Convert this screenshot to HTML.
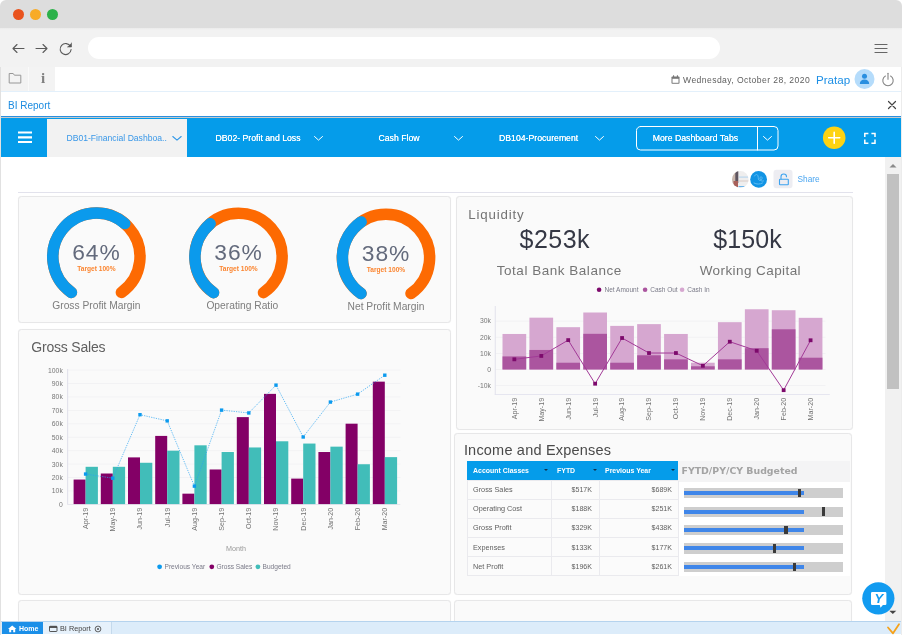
<!DOCTYPE html>
<html lang="en">
<head>
<meta charset="utf-8">
<title>BI Report - Financial Dashboard</title>
<style>
*{box-sizing:border-box;margin:0;padding:0}
html,body{width:902px;height:635px;overflow:hidden;background:#fff}
body{font-family:"Liberation Sans",sans-serif;color:#555}
#win{position:absolute;left:0;top:0;width:902px;height:635px;overflow:hidden;border-radius:6px 6px 0 0;background:#fff}
.abs{position:absolute}
.t{position:absolute;white-space:nowrap;line-height:1}
#titlebar{left:0;top:0;width:902px;height:28px;background:#dddddd}
.dot{position:absolute;top:8.800px;width:11px;height:11px;border-radius:50%}
#toolbar{left:0;top:28px;width:902px;height:39px;background:linear-gradient(#ebebeb,#f2f2f2 2px,#f2f2f2)}
#url{left:88px;top:9px;width:632px;height:22px;border-radius:11px;background:#fff}
#row1{left:0;top:67px;width:902px;height:25px;background:#fff;border-bottom:1px solid #e3f0fb}
#row1l{left:0;top:0;width:55px;height:24px;background:#f3f3f3}
#row2{left:0;top:92px;width:902px;height:24px;background:#fff}
#bluebar{left:0;top:118px;width:902px;height:39px;background:#059cea}
#blueline{left:0;top:116px;width:902px;height:1px;background:#2b8fdf}
#blueline2{left:0;top:117px;width:902px;height:1px;background:#c9c9c9}
#acttab{left:47px;top:1px;width:140px;height:38px;background:#f2f2f2}
.tab{color:#fff;font-size:8.7px;top:16px;text-shadow:0 0 .4px #fff}
.card{position:absolute;background:#fafafa;border:1px solid #e7e7e8;border-radius:3.5px;box-shadow:0 0 1px rgba(0,0,0,.07)}
#frameL{left:0;top:67px;width:1.4px;height:568px;background:#e1e1e1}
#frameR{left:900.5px;top:67px;width:1.5px;height:568px;background:#ececec}
#scroll{left:885px;top:157px;width:15.5px;height:464px;background:#f1f1f1}
#thumb{left:1.75px;top:17.4px;width:12.25px;height:214.6px;background:#c1c1c1}
#status{left:0;top:621px;width:902px;height:13px;background:#dcecfa;border-top:1px solid #b5d3ee}
#home{left:2px;top:0;width:41px;height:12px;background:#1b8fe8}
#birep{left:43px;top:0;width:69px;height:12px;background:#e6f1fb;border-right:1px solid #c4d9ec}
.gl{fill:#5b6173}
</style>
</head>
<body>
<div id="win">
  <!-- window chrome -->
  <div id="titlebar" class="abs">
    <div class="dot" style="left:13px;background:#e9531d"></div>
    <div class="dot" style="left:30px;background:#f8ab27"></div>
    <div class="dot" style="left:47px;background:#2cb14a"></div>
  </div>
  <div id="toolbar" class="abs">
    <div id="url" class="abs"></div>
    <svg class="abs" style="left:0;top:1px" width="902" height="38" viewBox="0 0 902 38" fill="none" stroke="#5a5a5a" stroke-width="1.1" stroke-linecap="round" stroke-linejoin="round">
      <path d="M24 19.5H13M17 15.5l-4 4 4 4"/>
      <path d="M36 19.5h11M43 15.5l4 4-4 4"/>
      <path d="M70.5 17.5a5.5 5.5 0 1 0 .6 3"/><path d="M71.5 14v4h-4" fill="#555" stroke-width=".6"/>
      <path d="M875 15.5h12M875 19.5h12M875 23.5h12" stroke="#666" stroke-width="1.2"/>
    </svg>
  </div>
  <div id="row1" class="abs">
    <div id="row1l" class="abs"></div>
    <div class="abs" style="left:28px;top:0;width:1px;height:24px;background:#fafafa"></div>
    <svg class="abs" style="left:0;top:0" width="902" height="24" viewBox="0 0 902 24">
      <path d="M9.200 6.500h4l1.200 1.700h6.400v7.800H9.200z" fill="none" stroke="#979797" stroke-width="1" stroke-linejoin="round"/>
      <text x="43" y="16.400" text-anchor="middle" font-family="Liberation Serif, serif" font-weight="700" font-size="15" fill="#808080">i</text>
      <!-- calendar -->
      <g fill="#777"><rect x="671.500" y="9.500" width="8" height="7.200" rx=".8"/><rect x="673" y="8.300" width="1.100" height="2"/><rect x="676.900" y="8.300" width="1.100" height="2"/></g>
      <rect x="672.500" y="11.800" width="6" height="4" fill="#fff"/>
      <!-- avatar -->
      <circle cx="864.5" cy="12" r="10" fill="#b5dcfb"/>
      <circle cx="864.5" cy="9.3" r="2.5" fill="#2a8fe0"/>
      <path d="M859.8 17c0-3 2-4.6 4.7-4.6s4.7 1.6 4.7 4.6z" fill="#2a8fe0"/>
      <!-- power -->
      <g fill="none" stroke="#858585" stroke-width="1.100" stroke-linecap="round"><path d="M885.400 9a5.200 5.200 0 1 0 5.200 0"/><path d="M888 6.300v6"/></g>
    </svg>
    <div class="t" style="left:683px;top:8.500px;font-size:8.600px;color:#606060;letter-spacing:.42px">Wednesday, October 28, 2020</div>
    <div class="t" style="left:816px;top:6.700px;font-size:11.600px;color:#1d8fe5">Pratap</div>
  </div>
  <div id="row2" class="abs">
    <div class="t" style="left:8px;top:9px;font-size:10px;color:#1b8be0">BI Report</div>
    <svg class="abs" style="left:887px;top:7.500px" width="10" height="10" viewBox="0 0 10 10"><path d="M1.5 1.5l7 7M8.5 1.5l-7 7" stroke="#444" stroke-width="1.2" stroke-linecap="round"/></svg>
  </div>
  <div id="blueline" class="abs"></div>
  <div id="blueline2" class="abs"></div>
  <div id="bluebar" class="abs">
    <div id="acttab" class="abs"></div>
    <svg class="abs" style="left:0;top:0" width="902" height="39" viewBox="0 0 902 39" fill="none" stroke="#fff" stroke-linecap="round" stroke-linejoin="round">
      <path d="M18 14.5h14M18 19.3h14M18 24h14" stroke-width="2.2" stroke-linecap="butt"/>
      <path d="M172.800 18.500l4.200 3.600 4.200-3.600" stroke="#2f97e8" stroke-width="1.100"/>
      <path d="M314.500 18.500l4 3.600 4-3.600" stroke-width="1"/>
      <path d="M454.500 18.500l4 3.600 4-3.600" stroke-width="1"/>
      <path d="M595.500 18.500l4 3.600 4-3.600" stroke-width="1"/>
      <rect x="636.500" y="8.500" width="141.500" height="23.500" rx="4" stroke-width="1"/>
      <path d="M757.500 8.500v23.500" stroke-width="1"/>
      <path d="M763.500 18.500l4 3.600 4-3.600" stroke-width="1"/>
      <circle cx="834.200" cy="19.800" r="11.300" fill="#fdd313" stroke="none"/>
      <path d="M828.700 19.800h11M834.200 14.300v11" stroke-width="1.600"/>
      <path d="M864.800 19v-3.600h3.600M871.400 15.400h3.600v3.600M875 21.600v3.600h-3.600M868.400 25.200h-3.600v-3.600" stroke-width="1.500" stroke-linecap="butt" stroke-linejoin="miter"/>
    </svg>
    <div class="t" style="left:66.500px;top:16px;font-size:8.600px;color:#3a98e8">DB01-Financial Dashboa..</div>
    <div class="t tab" style="left:215.500px">DB02- Profit and Loss</div>
    <div class="t tab" style="left:378.500px">Cash Flow</div>
    <div class="t tab" style="left:499px">DB104-Procurement</div>
    <div class="t tab" style="left:652.800px">More Dashboard Tabs</div>
  </div>

  <!-- CONTENT -->
  <div id="content" class="abs" style="left:0;top:157px;width:885px;height:464px;overflow:hidden;background:#fff">
   <div id="pg" class="abs" style="left:0;top:-157px;width:885px;height:700px">
    
<svg class="abs" style="left:0;top:157px" width="885" height="40" viewBox="0 157 885 40">
  <defs>
    <clipPath id="avc"><circle cx="740.3" cy="179.4" r="8.3"/></clipPath>
  </defs>
  <g clip-path="url(#avc)">
    <rect x="731" y="170" width="18" height="19" fill="#efeeee"/>
    <rect x="731" y="170" width="5.500" height="19" fill="#c9b7ad"/>
    <rect x="735.300" y="171" width="3" height="12" fill="#5e5560"/>
    <rect x="733.500" y="181" width="4.500" height="8" fill="#a8605a"/>
    <rect x="739" y="176.500" width="10" height="1.200" fill="#bcd7ee"/>
    <rect x="739" y="180.500" width="10" height="1" fill="#d9c9c4"/>
    <rect x="738.500" y="186" width="7" height="1.200" fill="#6db5ea"/>
  </g>
  <circle cx="758.6" cy="179.4" r="8.4" fill="#1294e4"/>
  <path d="M754.500 176c1-2 3-2 3.500 0s0 4 1.500 4.500 3-1.500 2.500-3-2.500-.5-2 1.500 2.500 2.500 3.500 2M754 183c2.500 1.500 6 1.500 8.500 0" stroke="#5ebcf3" stroke-width="1" fill="none" stroke-linecap="round"/>
  <rect x="773.5" y="169.800" width="19" height="18.500" rx="3" fill="#ededf2"/>
  <g fill="none" stroke="#3da3ef" stroke-width="1.100" stroke-linejoin="round" stroke-linecap="round">
    <rect x="779.500" y="179.200" width="8.800" height="5.600" rx=".6"/>
    <path d="M781 179v-2.300a2.750 2.750 0 0 1 5.500 0"/>
  </g>
  <rect x="18" y="192" width="835" height="1" fill="#e2e2ec"/>
</svg>
<div class="t" style="left:797.5px;top:175.300px;font-size:8.300px;color:#4aa5f0">Share</div>

    <div class="card" style="left:18.1px;top:196.1px;width:433.3px;height:126.7px"></div><div class="card" style="left:18.1px;top:328.8px;width:433.3px;height:265.9px"></div><div class="card" style="left:18.1px;top:600.2px;width:433.3px;height:69.8px"></div><div class="card" style="left:455.5px;top:196.1px;width:397px;height:234.2px"></div><div class="card" style="left:454.1px;top:432.8px;width:398.4px;height:161.9px"></div><div class="card" style="left:454.1px;top:600.2px;width:398.4px;height:69.8px"></div><svg class="abs" style="left:0;top:157px" width="885" height="478" viewBox="0 157 885 478" font-family="Liberation Sans, sans-serif"><path d="M71.39 292.42A43.6 43.6 0 1 1 121.41 292.42" fill="none" stroke="#fd6a02" stroke-width="11.5" stroke-linecap="round"/><path d="M71.39 292.42A43.6 43.6 0 1 1 124.77 223.6" fill="none" stroke="#0b9aec" stroke-width="11.5" stroke-linecap="round"/><text x="96.4" y="260" text-anchor="middle" font-size="22.8" letter-spacing=".9" fill="#636a7c">64%</text><text x="96.4" y="270.6" text-anchor="middle" font-size="6.6" font-weight="700" fill="#fb8530">Target 100%</text><text x="96.4" y="308.8" text-anchor="middle" font-size="10.25" fill="#7d7d7d">Gross Profit Margin</text><path d="M213.49 292.62A43.6 43.6 0 1 1 263.51 292.62" fill="none" stroke="#fd6a02" stroke-width="11.5" stroke-linecap="round"/><path d="M213.49 292.62A43.6 43.6 0 0 1 210.13 223.8" fill="none" stroke="#0b9aec" stroke-width="11.5" stroke-linecap="round"/><text x="238.5" y="260.2" text-anchor="middle" font-size="22.8" letter-spacing=".9" fill="#636a7c">36%</text><text x="238.5" y="270.8" text-anchor="middle" font-size="6.6" font-weight="700" fill="#fb8530">Target 100%</text><text x="242.3" y="309" text-anchor="middle" font-size="10.25" fill="#7d7d7d">Operating Ratio</text><path d="M360.99 293.52A43.6 43.6 0 1 1 411.01 293.52" fill="none" stroke="#fd6a02" stroke-width="11.5" stroke-linecap="round"/><path d="M360.99 293.52A43.6 43.6 0 0 1 361.12 222" fill="none" stroke="#0b9aec" stroke-width="11.5" stroke-linecap="round"/><text x="386" y="261.1" text-anchor="middle" font-size="22.8" letter-spacing=".9" fill="#636a7c">38%</text><text x="386" y="271.7" text-anchor="middle" font-size="6.6" font-weight="700" fill="#fb8530">Target 100%</text><text x="386" y="310.3" text-anchor="middle" font-size="10.25" fill="#7d7d7d">Net Profit Margin</text><rect x="68" y="490.57" width="332.5" height=".8" fill="#f1f1f3"/><rect x="68" y="477.14" width="332.5" height=".8" fill="#f1f1f3"/><rect x="68" y="463.71" width="332.5" height=".8" fill="#f1f1f3"/><rect x="68" y="450.28" width="332.5" height=".8" fill="#f1f1f3"/><rect x="68" y="436.85" width="332.5" height=".8" fill="#f1f1f3"/><rect x="68" y="423.42" width="332.5" height=".8" fill="#f1f1f3"/><rect x="68" y="409.99" width="332.5" height=".8" fill="#f1f1f3"/><rect x="68" y="396.56" width="332.5" height=".8" fill="#f1f1f3"/><rect x="68" y="383.13" width="332.5" height=".8" fill="#f1f1f3"/><rect x="68" y="369.7" width="332.5" height=".8" fill="#f1f1f3"/><rect x="67.3" y="369" width=".8" height="135.4" fill="#d9d9e6"/><text x="62.8" y="506.8" text-anchor="end" font-size="6.8" fill="#777">0</text><text x="62.8" y="493.37" text-anchor="end" font-size="6.8" fill="#777">10k</text><text x="62.8" y="479.94" text-anchor="end" font-size="6.8" fill="#777">20k</text><text x="62.8" y="466.51" text-anchor="end" font-size="6.8" fill="#777">30k</text><text x="62.8" y="453.08" text-anchor="end" font-size="6.8" fill="#777">40k</text><text x="62.8" y="439.65" text-anchor="end" font-size="6.8" fill="#777">50k</text><text x="62.8" y="426.22" text-anchor="end" font-size="6.8" fill="#777">60k</text><text x="62.8" y="412.79" text-anchor="end" font-size="6.8" fill="#777">70k</text><text x="62.8" y="399.36" text-anchor="end" font-size="6.8" fill="#777">80k</text><text x="62.8" y="385.93" text-anchor="end" font-size="6.8" fill="#777">90k</text><text x="62.8" y="372.5" text-anchor="end" font-size="6.8" fill="#777">100k</text><rect x="73.6" y="479.55" width="12" height="24.85" fill="#830066"/><rect x="85.6" y="466.8" width="12.3" height="37.6" fill="#41bdb9"/><rect x="100.8" y="473.51" width="12" height="30.89" fill="#830066"/><rect x="112.8" y="466.8" width="12.3" height="37.6" fill="#41bdb9"/><rect x="128" y="457.39" width="12" height="47.01" fill="#830066"/><rect x="140" y="462.77" width="12.3" height="41.63" fill="#41bdb9"/><rect x="155.2" y="435.91" width="12" height="68.49" fill="#830066"/><rect x="167.2" y="450.68" width="12.3" height="53.72" fill="#41bdb9"/><rect x="182.4" y="493.66" width="12" height="10.74" fill="#830066"/><rect x="194.4" y="445.31" width="12.3" height="59.09" fill="#41bdb9"/><rect x="209.6" y="469.48" width="12" height="34.92" fill="#830066"/><rect x="221.6" y="452.02" width="12.3" height="52.38" fill="#41bdb9"/><rect x="236.8" y="417.11" width="12" height="87.29" fill="#830066"/><rect x="248.8" y="447.46" width="12.3" height="56.94" fill="#41bdb9"/><rect x="264" y="393.87" width="12" height="110.53" fill="#830066"/><rect x="276" y="441.28" width="12.3" height="63.12" fill="#41bdb9"/><rect x="291.2" y="478.61" width="12" height="25.79" fill="#830066"/><rect x="303.2" y="443.56" width="12.3" height="60.84" fill="#41bdb9"/><rect x="318.4" y="452.02" width="12" height="52.38" fill="#830066"/><rect x="330.4" y="446.65" width="12.3" height="57.75" fill="#41bdb9"/><rect x="345.6" y="423.69" width="12" height="80.71" fill="#830066"/><rect x="357.6" y="464.24" width="12.3" height="40.16" fill="#41bdb9"/><rect x="372.8" y="381.65" width="12" height="122.75" fill="#830066"/><rect x="384.8" y="457.13" width="12.3" height="47.27" fill="#41bdb9"/><polyline points="85.6,474.05 112.8,478.21 140,414.69 167.2,420.87 194.4,486.14 221.6,410.12 248.8,412.94 276,385.14 303.2,436.98 330.4,402.06 357.6,394.14 384.8,375.2" fill="none" stroke="#2aa4f0" stroke-width=".7" stroke-dasharray="1.3 1.1"/><rect x="83.9" y="472.35" width="3.4" height="3.4" fill="#0b9aee"/><rect x="111.1" y="476.51" width="3.4" height="3.4" fill="#0b9aee"/><rect x="138.3" y="412.99" width="3.4" height="3.4" fill="#0b9aee"/><rect x="165.5" y="419.17" width="3.4" height="3.4" fill="#0b9aee"/><rect x="192.7" y="484.44" width="3.4" height="3.4" fill="#0b9aee"/><rect x="219.9" y="408.42" width="3.4" height="3.4" fill="#0b9aee"/><rect x="247.1" y="411.24" width="3.4" height="3.4" fill="#0b9aee"/><rect x="274.3" y="383.44" width="3.4" height="3.4" fill="#0b9aee"/><rect x="301.5" y="435.28" width="3.4" height="3.4" fill="#0b9aee"/><rect x="328.7" y="400.36" width="3.4" height="3.4" fill="#0b9aee"/><rect x="355.9" y="392.44" width="3.4" height="3.4" fill="#0b9aee"/><rect x="383.1" y="373.5" width="3.4" height="3.4" fill="#0b9aee"/><rect x="67.3" y="504.2" width="333" height=".8" fill="#e2e2ea"/><text transform="translate(87.9,507.8) rotate(-90)" text-anchor="end" font-size="7.1" fill="#727272">Apr-19</text><text transform="translate(115.1,507.8) rotate(-90)" text-anchor="end" font-size="7.1" fill="#727272">May-19</text><text transform="translate(142.3,507.8) rotate(-90)" text-anchor="end" font-size="7.1" fill="#727272">Jun-19</text><text transform="translate(169.5,507.8) rotate(-90)" text-anchor="end" font-size="7.1" fill="#727272">Jul-19</text><text transform="translate(196.7,507.8) rotate(-90)" text-anchor="end" font-size="7.1" fill="#727272">Aug-19</text><text transform="translate(223.9,507.8) rotate(-90)" text-anchor="end" font-size="7.1" fill="#727272">Sep-19</text><text transform="translate(251.1,507.8) rotate(-90)" text-anchor="end" font-size="7.1" fill="#727272">Oct-19</text><text transform="translate(278.3,507.8) rotate(-90)" text-anchor="end" font-size="7.1" fill="#727272">Nov-19</text><text transform="translate(305.5,507.8) rotate(-90)" text-anchor="end" font-size="7.1" fill="#727272">Dec-19</text><text transform="translate(332.7,507.8) rotate(-90)" text-anchor="end" font-size="7.1" fill="#727272">Jan-20</text><text transform="translate(359.9,507.8) rotate(-90)" text-anchor="end" font-size="7.1" fill="#727272">Feb-20</text><text transform="translate(387.1,507.8) rotate(-90)" text-anchor="end" font-size="7.1" fill="#727272">Mar-20</text><text x="236" y="551.2" text-anchor="middle" font-size="7.2" fill="#999">Month</text><circle cx="159.6" cy="566.8" r="2.4" fill="#0b9aee"/><text x="164.5" y="569.1" font-size="6.6" fill="#7a7a88">Previous Year</text><circle cx="211.8" cy="566.8" r="2.4" fill="#830066"/><text x="216.4" y="569.1" font-size="6.6" fill="#7a7a88">Gross Sales</text><circle cx="257.9" cy="566.8" r="2.4" fill="#41bdb9"/><text x="262.5" y="569.1" font-size="6.6" fill="#7a7a88">Budgeted</text><rect x="495.5" y="320.65" width="330" height=".8" fill="#f0f0f2"/><text x="491" y="323.35" text-anchor="end" font-size="6.8" fill="#777">30k</text><rect x="495.5" y="336.8" width="330" height=".8" fill="#f0f0f2"/><text x="491" y="339.5" text-anchor="end" font-size="6.8" fill="#777">20k</text><rect x="495.5" y="352.95" width="330" height=".8" fill="#f0f0f2"/><text x="491" y="355.65" text-anchor="end" font-size="6.8" fill="#777">10k</text><rect x="495.5" y="369.1" width="330" height=".8" fill="#f0f0f2"/><text x="491" y="371.8" text-anchor="end" font-size="6.8" fill="#777">0</text><rect x="495.5" y="385.25" width="330" height=".8" fill="#f0f0f2"/><text x="491" y="387.95" text-anchor="end" font-size="6.8" fill="#777">-10k</text><rect x="494.8" y="306" width=".8" height="89" fill="#dcdce8"/><rect x="494.8" y="394.2" width="335" height=".8" fill="#e2e2ee"/><rect x="502.5" y="333.97" width="23.7" height="35.53" fill="#d6a7d0"/><rect x="502.5" y="356.42" width="23.7" height="13.08" fill="#ab559f"/><rect x="529.43" y="317.66" width="23.7" height="51.84" fill="#d6a7d0"/><rect x="529.43" y="349.96" width="23.7" height="19.54" fill="#ab559f"/><rect x="556.36" y="327.19" width="23.7" height="42.31" fill="#d6a7d0"/><rect x="556.36" y="362.72" width="23.7" height="6.78" fill="#ab559f"/><rect x="583.29" y="312.49" width="23.7" height="57.01" fill="#d6a7d0"/><rect x="583.29" y="333.81" width="23.7" height="35.69" fill="#ab559f"/><rect x="610.22" y="325.89" width="23.7" height="43.6" fill="#d6a7d0"/><rect x="610.22" y="362.72" width="23.7" height="6.78" fill="#ab559f"/><rect x="637.15" y="324.12" width="23.7" height="45.38" fill="#d6a7d0"/><rect x="637.15" y="355.29" width="23.7" height="14.21" fill="#ab559f"/><rect x="664.08" y="333.97" width="23.7" height="35.53" fill="#d6a7d0"/><rect x="664.08" y="359.33" width="23.7" height="10.17" fill="#ab559f"/><rect x="691.01" y="362.72" width="23.7" height="6.78" fill="#d6a7d0"/><rect x="691.01" y="366.27" width="23.7" height="3.23" fill="#ab559f"/><rect x="717.94" y="322.18" width="23.7" height="47.32" fill="#d6a7d0"/><rect x="717.94" y="359.33" width="23.7" height="10.17" fill="#ab559f"/><rect x="744.87" y="309.26" width="23.7" height="60.24" fill="#d6a7d0"/><rect x="744.87" y="348.18" width="23.7" height="21.32" fill="#ab559f"/><rect x="771.8" y="310.23" width="23.7" height="59.27" fill="#d6a7d0"/><rect x="771.8" y="329.29" width="23.7" height="40.21" fill="#ab559f"/><rect x="798.73" y="317.82" width="23.7" height="51.68" fill="#d6a7d0"/><rect x="798.73" y="357.71" width="23.7" height="11.79" fill="#ab559f"/><polyline points="514.35,359.33 541.28,355.93 568.21,340.11 595.14,383.71 622.07,338.01 649,353.03 675.93,353.03 702.86,365.79 729.79,341.72 756.72,350.77 783.65,390.17 810.58,340.27" fill="none" stroke="#a23a97" stroke-width="1"/><rect x="512.45" y="357.43" width="3.8" height="3.8" fill="#7d0a6c"/><rect x="539.38" y="354.03" width="3.8" height="3.8" fill="#7d0a6c"/><rect x="566.31" y="338.21" width="3.8" height="3.8" fill="#7d0a6c"/><rect x="593.24" y="381.81" width="3.8" height="3.8" fill="#7d0a6c"/><rect x="620.17" y="336.11" width="3.8" height="3.8" fill="#7d0a6c"/><rect x="647.1" y="351.13" width="3.8" height="3.8" fill="#7d0a6c"/><rect x="674.03" y="351.13" width="3.8" height="3.8" fill="#7d0a6c"/><rect x="700.96" y="363.89" width="3.8" height="3.8" fill="#7d0a6c"/><rect x="727.89" y="339.82" width="3.8" height="3.8" fill="#7d0a6c"/><rect x="754.82" y="348.87" width="3.8" height="3.8" fill="#7d0a6c"/><rect x="781.75" y="388.27" width="3.8" height="3.8" fill="#7d0a6c"/><rect x="808.68" y="338.37" width="3.8" height="3.8" fill="#7d0a6c"/><text transform="translate(516.75,397.9) rotate(-90)" text-anchor="end" font-size="7.1" fill="#727272">Apr-19</text><text transform="translate(543.68,397.9) rotate(-90)" text-anchor="end" font-size="7.1" fill="#727272">May-19</text><text transform="translate(570.61,397.9) rotate(-90)" text-anchor="end" font-size="7.1" fill="#727272">Jun-19</text><text transform="translate(597.54,397.9) rotate(-90)" text-anchor="end" font-size="7.1" fill="#727272">Jul-19</text><text transform="translate(624.47,397.9) rotate(-90)" text-anchor="end" font-size="7.1" fill="#727272">Aug-19</text><text transform="translate(651.4,397.9) rotate(-90)" text-anchor="end" font-size="7.1" fill="#727272">Sep-19</text><text transform="translate(678.33,397.9) rotate(-90)" text-anchor="end" font-size="7.1" fill="#727272">Oct-19</text><text transform="translate(705.26,397.9) rotate(-90)" text-anchor="end" font-size="7.1" fill="#727272">Nov-19</text><text transform="translate(732.19,397.9) rotate(-90)" text-anchor="end" font-size="7.1" fill="#727272">Dec-19</text><text transform="translate(759.12,397.9) rotate(-90)" text-anchor="end" font-size="7.1" fill="#727272">Jan-20</text><text transform="translate(786.05,397.9) rotate(-90)" text-anchor="end" font-size="7.1" fill="#727272">Feb-20</text><text transform="translate(812.98,397.9) rotate(-90)" text-anchor="end" font-size="7.1" fill="#727272">Mar-20</text><circle cx="599.1" cy="289.8" r="2.3" fill="#7d0a6c"/><text x="604.5" y="292" font-size="6.5" fill="#7a7a88">Net Amount</text><circle cx="645.1" cy="289.8" r="2.3" fill="#ab559f"/><text x="650.2" y="292" font-size="6.5" fill="#7a7a88">Cash Out</text><circle cx="682.1" cy="289.8" r="2.3" fill="#d6a7d0"/><text x="687.2" y="292" font-size="6.5" fill="#7a7a88">Cash In</text></svg><div class="t" style="left:31.3px;top:340.3px;font-size:14px;color:#606060;letter-spacing:-.2px">Gross Sales</div><div class="t" style="left:468.2px;top:207.9px;font-size:13.3px;color:#737373;letter-spacing:.85px">Liquidity</div><div class="t" style="left:519.5px;top:226.5px;font-size:25px;color:#353845;letter-spacing:.5px">$253k</div><div class="t" style="left:713.3px;top:226.5px;font-size:25px;color:#353845;letter-spacing:.1px">$150k</div><div class="t" style="left:496.8px;top:263.5px;font-size:13.5px;color:#757575;letter-spacing:.52px">Total Bank Balance</div><div class="t" style="left:699.7px;top:263.5px;font-size:13.5px;color:#757575;letter-spacing:.42px">Working Capital</div><div class="t" style="left:463.9px;top:443px;font-size:14.5px;color:#4a4a4a;letter-spacing:.2px">Income and Expenses</div><div class="abs" style="left:467px;top:461px;width:211px;height:19.5px;background:#059cea"></div><div class="abs" style="left:678px;top:461px;width:172.3px;height:21.3px;background:#f4f4f5"></div><div class="abs" style="left:467px;top:480.5px;width:211px;height:95.5px;background:#fbfbfb"></div><div class="abs" style="left:678px;top:482.3px;width:172.3px;height:93.3px;background:#ffffff"></div><div class="abs" style="left:467px;top:479.9px;width:211px;height:0.9px;background:#eaeaee"></div><div class="abs" style="left:467px;top:499px;width:211px;height:0.9px;background:#eaeaee"></div><div class="abs" style="left:467px;top:518.1px;width:211px;height:0.9px;background:#eaeaee"></div><div class="abs" style="left:467px;top:537.2px;width:211px;height:0.9px;background:#eaeaee"></div><div class="abs" style="left:467px;top:556.3px;width:211px;height:0.9px;background:#eaeaee"></div><div class="abs" style="left:467px;top:575.4px;width:211px;height:0.9px;background:#eaeaee"></div><div class="abs" style="left:467px;top:480.5px;width:0.9px;height:95.5px;background:#eaeaee"></div><div class="abs" style="left:550.7px;top:480.5px;width:0.9px;height:95.5px;background:#eaeaee"></div><div class="abs" style="left:599px;top:480.5px;width:0.9px;height:95.5px;background:#eaeaee"></div><div class="abs" style="left:677.5px;top:480.5px;width:0.9px;height:95.5px;background:#eaeaee"></div><div class="t" style="left:473.3px;top:467.3px;font-size:7.4px;color:#fff;font-weight:700;transform:scaleX(.94);transform-origin:0 0;">Account Classes</div><div class="t" style="left:557px;top:467.3px;font-size:7.4px;color:#fff;font-weight:700;transform:scaleX(.94);transform-origin:0 0;">FYTD</div><div class="t" style="left:605.4px;top:467.3px;font-size:7.4px;color:#fff;font-weight:700;transform:scaleX(.94);transform-origin:0 0;">Previous Year</div><div class="abs" style="left:544px;top:469.3px;width:0;height:0;border-left:2px solid transparent;border-right:2px solid transparent;border-top:2.5px solid #10324d"></div><div class="abs" style="left:592.6px;top:469.3px;width:0;height:0;border-left:2px solid transparent;border-right:2px solid transparent;border-top:2.5px solid #10324d"></div><div class="abs" style="left:671px;top:469.3px;width:0;height:0;border-left:2px solid transparent;border-right:2px solid transparent;border-top:2.5px solid #10324d"></div><div class="t" style="left:681.5px;top:465.6px;font-size:9.4px;color:#a3a3a3;font-family:'DejaVu Sans',sans-serif;font-weight:700;">FYTD/PY/CY Budgeted</div><div class="t" style="left:473.3px;top:486.2px;font-size:7.6px;color:#606060;transform:scaleX(.96);transform-origin:0 0;">Gross Sales</div><div class="t" style="right:292.7px;top:486.2px;font-size:7.6px;color:#606060;transform:scaleX(.93);transform-origin:100% 0;">$517K</div><div class="t" style="right:213.3px;top:486.2px;font-size:7.6px;color:#606060;transform:scaleX(.93);transform-origin:100% 0;">$689K</div><div class="abs" style="left:684px;top:488.1px;width:159.4px;height:10.3px;background:#cecece"></div><div class="abs" style="left:684px;top:491.2px;width:119.8px;height:4px;background:#3f86e9"></div><div class="abs" style="left:797.9px;top:489px;width:3.3px;height:8.4px;background:#3a3a3a"></div><div class="t" style="left:473.3px;top:505.3px;font-size:7.6px;color:#606060;transform:scaleX(.96);transform-origin:0 0;">Operating Cost</div><div class="t" style="right:292.7px;top:505.3px;font-size:7.6px;color:#606060;transform:scaleX(.93);transform-origin:100% 0;">$188K</div><div class="t" style="right:213.3px;top:505.3px;font-size:7.6px;color:#606060;transform:scaleX(.93);transform-origin:100% 0;">$251K</div><div class="abs" style="left:684px;top:506.5px;width:159.4px;height:10.3px;background:#cecece"></div><div class="abs" style="left:684px;top:509.6px;width:119.8px;height:4px;background:#3f86e9"></div><div class="abs" style="left:822px;top:507.4px;width:3.3px;height:8.4px;background:#3a3a3a"></div><div class="t" style="left:473.3px;top:524.4px;font-size:7.6px;color:#606060;transform:scaleX(.96);transform-origin:0 0;">Gross Profit</div><div class="t" style="right:292.7px;top:524.4px;font-size:7.6px;color:#606060;transform:scaleX(.93);transform-origin:100% 0;">$329K</div><div class="t" style="right:213.3px;top:524.4px;font-size:7.6px;color:#606060;transform:scaleX(.93);transform-origin:100% 0;">$438K</div><div class="abs" style="left:684px;top:524.9px;width:159.4px;height:10.3px;background:#cecece"></div><div class="abs" style="left:684px;top:528px;width:119.8px;height:4px;background:#3f86e9"></div><div class="abs" style="left:784.4px;top:525.8px;width:3.3px;height:8.4px;background:#3a3a3a"></div><div class="t" style="left:473.3px;top:543.5px;font-size:7.6px;color:#606060;transform:scaleX(.96);transform-origin:0 0;">Expenses</div><div class="t" style="right:292.7px;top:543.5px;font-size:7.6px;color:#606060;transform:scaleX(.93);transform-origin:100% 0;">$133K</div><div class="t" style="right:213.3px;top:543.5px;font-size:7.6px;color:#606060;transform:scaleX(.93);transform-origin:100% 0;">$177K</div><div class="abs" style="left:684px;top:543.3px;width:159.4px;height:10.3px;background:#cecece"></div><div class="abs" style="left:684px;top:546.4px;width:119.8px;height:4px;background:#3f86e9"></div><div class="abs" style="left:773.1px;top:544.2px;width:3.3px;height:8.4px;background:#3a3a3a"></div><div class="t" style="left:473.3px;top:562.6px;font-size:7.6px;color:#606060;transform:scaleX(.96);transform-origin:0 0;">Net Profit</div><div class="t" style="right:292.7px;top:562.6px;font-size:7.6px;color:#606060;transform:scaleX(.93);transform-origin:100% 0;">$196K</div><div class="t" style="right:213.3px;top:562.6px;font-size:7.6px;color:#606060;transform:scaleX(.93);transform-origin:100% 0;">$261K</div><div class="abs" style="left:684px;top:561.7px;width:159.4px;height:10.3px;background:#cecece"></div><div class="abs" style="left:684px;top:564.8px;width:119.8px;height:4px;background:#3f86e9"></div><div class="abs" style="left:792.6px;top:562.6px;width:3.3px;height:8.4px;background:#3a3a3a"></div>
   </div>
  </div>

  <!-- scrollbar -->
  <div id="scroll" class="abs">
    <div id="thumb" class="abs"></div>
    <svg class="abs" style="left:0;top:0" width="16" height="464" viewBox="0 0 16 464"><path d="M4.500 10.500l3.500-3.500 3.500 3.500z" fill="#8a8a8a"/><path d="M4.300 453.700l3.500 3.300 3.500-3.300z" fill="#444"/></svg>
  </div>
  
<svg class="abs" style="left:860px;top:580px" width="36" height="36" viewBox="860 580 36 36">
  <circle cx="878.35" cy="598.3" r="16.1" fill="#129bf0"/>
  <path d="M872.2 592h13a1.200 1.200 0 0 1 1.200 1.200v10.600a1.200 1.200 0 0 1-1.200 1.200h-2.300l-2.400 2.700-.7-2.700h-7.600a1.200 1.200 0 0 1-1.200-1.200v-10.600a1.200 1.200 0 0 1 1.200-1.200z" fill="#fff"/>
  <text x="878.9" y="603.4" text-anchor="middle" font-family="Liberation Sans, sans-serif" font-weight="700" font-style="italic" font-size="13" fill="#129bf0">Y</text>
</svg>
  <!-- status bar -->
  <div id="status" class="abs">
    <div id="home" class="abs"></div>
    <div id="birep" class="abs"></div>
    
<svg class="abs" style="left:0;top:0" width="902" height="13" viewBox="0 621 902 13">
  <path d="M8 628l4.200-3.600 4.200 3.600h-1.200v3.200h-2v-2.200h-2v2.200h-2v-3.200z" fill="#fff"/>
  <rect x="49.5" y="625.3" width="7.5" height="5.2" rx=".6" fill="none" stroke="#444" stroke-width=".9"/><rect x="49.5" y="625.3" width="7.5" height="1.6" fill="#444"/>
  <circle cx="98" cy="628" r="2.9" fill="none" stroke="#444" stroke-width=".8"/><path d="M96.800 626.800l2.400 2.400M99.200 626.800l-2.400 2.400" stroke="#444" stroke-width=".7"/>
  <path d="M888 626.500l5 5.800 6-9" fill="none" stroke="#f5a21a" stroke-width="1.800" stroke-linecap="round" stroke-linejoin="round"/>
</svg>
<div class="t" style="left:19px;top:3px;font-size:7px;color:#fff;font-weight:700">Home</div>
<div class="t" style="left:60px;top:3px;font-size:7.3px;color:#444">BI Report</div>

  </div>
  <div id="frameL" class="abs"></div>
  <div id="frameR" class="abs"></div>
</div>
</body>
</html>
